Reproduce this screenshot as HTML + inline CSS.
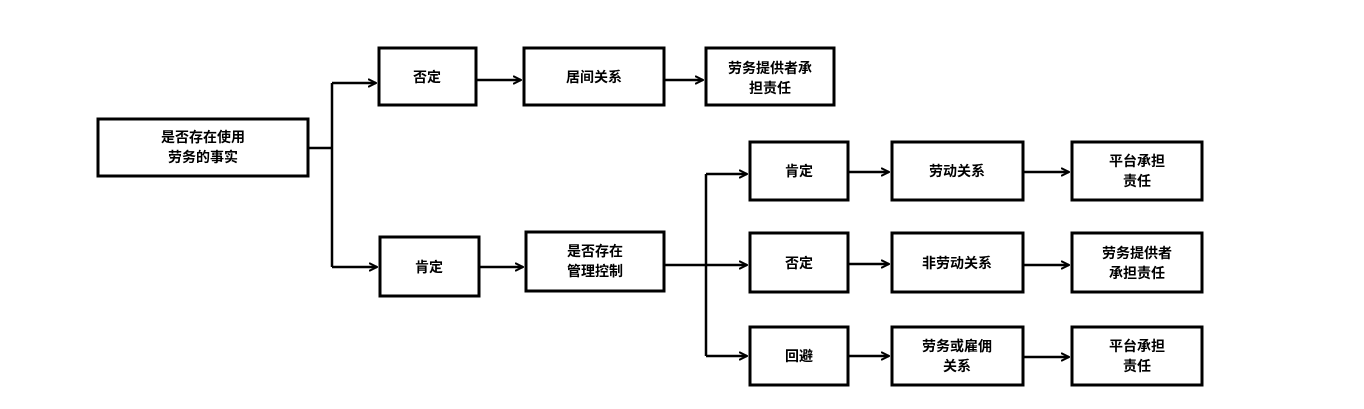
<!DOCTYPE html>
<html><head><meta charset="utf-8"><style>
body{margin:0;background:#fff;width:1364px;height:404px;overflow:hidden}
svg text{font-family:"Liberation Sans","Noto Sans CJK SC",sans-serif;font-weight:bold;font-size:14px;fill:#000;text-anchor:middle}
</style></head><body>
<svg width="1364" height="404" viewBox="0 0 1364 404" xmlns="http://www.w3.org/2000/svg">
<defs><marker id="a" viewBox="0 0 10 10" refX="9" refY="5" markerWidth="9" markerHeight="9" orient="auto" markerUnits="userSpaceOnUse"><path d="M0,0.5 L9,5 L0,9.5" fill="none" stroke="#000" stroke-width="2.2"/></marker></defs>
<g fill="none" stroke="#000" stroke-width="3">
<rect x="98" y="119" width="210" height="57"/>
<rect x="379" y="48" width="97" height="57"/>
<rect x="380" y="237" width="99" height="59"/>
<rect x="524" y="48" width="140" height="57"/>
<rect x="706" y="48" width="128" height="57"/>
<rect x="526" y="232" width="138" height="59"/>
<rect x="750" y="142" width="98" height="58"/>
<rect x="750" y="233" width="98" height="59"/>
<rect x="750" y="327" width="98" height="58"/>
<rect x="892" y="142" width="131" height="58"/>
<rect x="892" y="233" width="131" height="59"/>
<rect x="892" y="327" width="131" height="58"/>
<rect x="1072" y="142" width="130" height="58"/>
<rect x="1072" y="233" width="130" height="59"/>
<rect x="1072" y="327" width="130" height="58"/>
</g>
<g fill="none" stroke="#000" stroke-width="2.5">
<path d="M308,148 H332 M332,83 V267"/>
<path d="M332,83 H376" marker-end="url(#a)"/>
<path d="M332,267 H377" marker-end="url(#a)"/>
<path d="M476,80 H521" marker-end="url(#a)"/>
<path d="M664,80 H703" marker-end="url(#a)"/>
<path d="M479,267 H523" marker-end="url(#a)"/>
<path d="M664,265 H706 M706,174 V356"/>
<path d="M706,174 H747" marker-end="url(#a)"/>
<path d="M706,265 H747" marker-end="url(#a)"/>
<path d="M706,356 H747" marker-end="url(#a)"/>
<path d="M848,172 H889" marker-end="url(#a)"/>
<path d="M848,264 H889" marker-end="url(#a)"/>
<path d="M848,356 H889" marker-end="url(#a)"/>
<path d="M1023,172 H1069" marker-end="url(#a)"/>
<path d="M1023,265 H1069" marker-end="url(#a)"/>
<path d="M1023,357 H1069" marker-end="url(#a)"/>
</g>
<text x="203" y="142">是否存在使用</text>
<text x="203" y="162">劳务的事实</text>
<text x="427" y="82">否定</text>
<text x="429" y="272">肯定</text>
<text x="594" y="82">居间关系</text>
<text x="770" y="73">劳务提供者承</text>
<text x="770" y="93">担责任</text>
<text x="595" y="256">是否存在</text>
<text x="595" y="276">管理控制</text>
<text x="799" y="176">肯定</text>
<text x="799" y="268">否定</text>
<text x="799" y="361">回避</text>
<text x="957" y="176">劳动关系</text>
<text x="957" y="268">非劳动关系</text>
<text x="957" y="351">劳务或雇佣</text>
<text x="957" y="371">关系</text>
<text x="1137" y="166">平台承担</text>
<text x="1137" y="186">责任</text>
<text x="1137" y="258">劳务提供者</text>
<text x="1137" y="278">承担责任</text>
<text x="1137" y="351">平台承担</text>
<text x="1137" y="371">责任</text>
</svg>
</body></html>
